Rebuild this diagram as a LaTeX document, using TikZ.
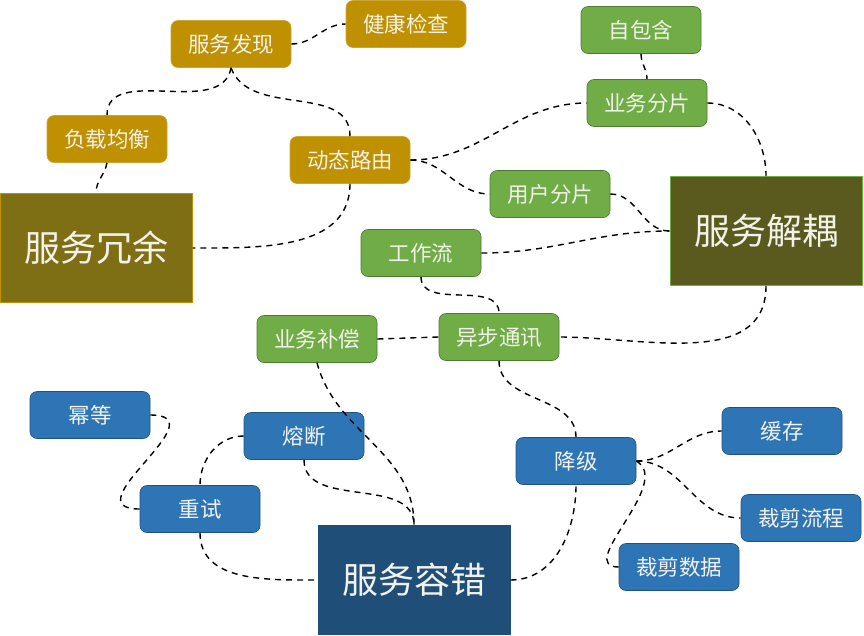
\documentclass[tikz,border=0pt]{standalone}
\usepackage{fontspec}
\setmainfont{Noto Sans CJK SC}
\usetikzlibrary{calc}
\definecolor{cgold}{HTML}{BF9000}
\definecolor{cgoldD}{HTML}{7F6F14}
\definecolor{cgreen}{HTML}{70AD47}
\definecolor{colive}{HTML}{5B5A1E}
\definecolor{cblue}{HTML}{2E75B6}
\definecolor{cnavy}{HTML}{1F4E79}
\definecolor{ctext}{HTML}{F2F2EA}
\tikzset{
  base/.style={rectangle, rounded corners=7pt, text=ctext, font=\fontsize{21.5}{24}\selectfont, inner sep=0pt},
  gsmall/.style={base, fill=cgold, draw=cgold!80!white, line width=0.6pt, minimum width=120pt, minimum height=47pt},
  esmall/.style={base, fill=cgreen, draw=cgreen!70!black, line width=0.6pt, minimum width=120pt, minimum height=47pt},
  bsmall/.style={base, fill=cblue, draw=cblue!70!black, line width=0.6pt, minimum width=120pt, minimum height=47pt},
  bigbox/.style={rectangle, text=ctext, font=\fontsize{36}{40}\selectfont, inner sep=0pt, minimum width=192pt, minimum height=109pt, line width=1pt},
  link/.style={draw=black, line width=1.4pt, dash pattern=on 6pt off 5pt},
}
\begin{document}
\begin{tikzpicture}[x=1pt,y=-1pt]
\useasboundingbox (0,0) rectangle (864,635);
% gold group
\node[gsmall] (fx) at (231,44) {服务发现};
\node[gsmall] (jk) at (406,24) {健康检查};
\node[gsmall] (fz) at (107,139) {负载均衡};
\node[gsmall] (dl) at (350,160) {动态路由};
\node[bigbox, fill=cgoldD, draw=cgold] (ry) at (96,248) {服务冗余};
% green group
\node[esmall] (zb) at (641,30) {自包含};
\node[esmall] (fp) at (647,103) {业务分片};
\node[esmall] (yh) at (550,194) {用户分片};
\node[bigbox, fill=colive, draw=cgreen] (jo) at (766,231) {服务解耦};
\node[esmall] (gz) at (421,253) {工作流};
\node[esmall] (bc) at (317,339) {业务补偿};
\node[esmall] (yb) at (499,337) {异步通讯};
% blue group
\node[bsmall] (md) at (90,415) {幂等};
\node[bsmall] (rd) at (304,436) {熔断};
\node[bsmall] (cs) at (200,509) {重试};
\node[bsmall] (jj) at (576,461) {降级};
\node[bsmall] (hc) at (782,431) {缓存};
\node[bsmall] (cl) at (801,518) {裁剪流程};
\node[bsmall] (cd) at (679,567) {裁剪数据};
\node[bigbox, fill=cnavy, draw=cnavy] (rc) at (414,580) {服务容错};
% connectors
\path[link] (fx.east) to[out=0,in=180] (jk.west);
\path[link] (fx.south) to[out=-100,in=90] (fz.north);
\path[link] (fx.south) to[out=-70,in=90] (dl.north);
\path[link] (fz.south) to[out=-100,in=90] (ry.north);
\path[link] (dl.south) to[out=-90,in=0] (ry.east);
\path[link] (dl.east) to[out=0,in=180] (fp.west);
\path[link] (dl.east) to[out=0,in=180] (yh.west);
\path[link] (zb.south) to[out=-90,in=90] (fp.north);
\path[link] (fp.east) to[out=0,in=90] (jo.north);
\path[link] (yh.east) to[out=0,in=180] (jo.west);
\path[link] (gz.east) to[out=0,in=180] (jo.west);
\path[link] (jo.south) to[out=-90,in=0] (yb.east);
\path[link] (gz.south) to[out=-90,in=90] (yb.north);
\path[link] (bc.east) -- (yb.west);
\path[link] (yb.south) to[out=-90,in=90] (jj.north);
\path[link] (bc.south) to[out=-75,in=90] (rc.north);
\path[link] (rd.south) to[out=-90,in=90] (rc.north);
\path[link] (rd.west) to[out=180,in=90] (cs.north);
\path[link] (md.east) to[out=0,in=180,looseness=1.9] (cs.west);
\path[link] (cs.south) to[out=-90,in=180] (rc.west);
\path[link] (rc.east) to[out=0,in=-90] (jj.south);
\path[link] (jj.east) to[out=0,in=180] (hc.west);
\path[link] (jj.east) to[out=0,in=180] (cl.west);
\path[link] (jj.east) .. controls ($(jj.east)+(38,22)$) and ($(cd.west)+(-45,0)$) .. (cd.west);
\end{tikzpicture}
\end{document}
